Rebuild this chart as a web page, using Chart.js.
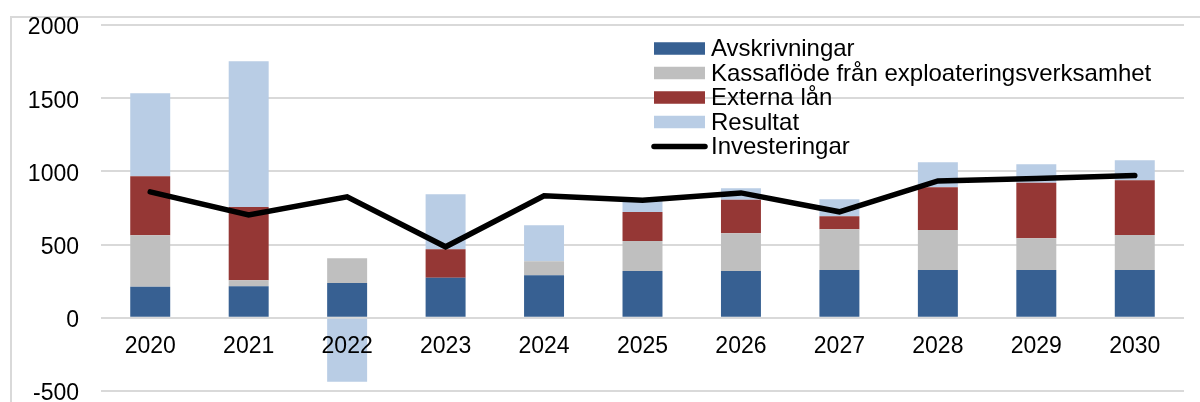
<!DOCTYPE html>
<html>
<head>
<meta charset="utf-8">
<script src="https://cdn.jsdelivr.net/npm/chart.js@4/dist/chart.umd.min.js"></script>
<style>
  html, body { margin: 0; padding: 0; background: #fff; }
  #wrap { width: 1200px; height: 402px; position: relative; }
</style>
</head>
<body>
<div id="wrap"><canvas id="finChart" width="1200" height="402"></canvas></div>
<script>
const years = ["2020", "2021", "2022", "2023", "2024", "2025", "2026", "2027", "2028", "2029", "2030"];
const avskrivningar = [212, 216, 237, 273, 291, 319, 319, 326, 326, 326, 326];
const kassaflode = [352, 41, 170, 0, 96, 205, 259, 279, 273, 218, 239];
const externaLan = [403, 499, 0, 196, 0, 198, 228, 89, 293, 378, 375];
const resultat = [567, 996, -437, 375, 246, 85, 79, 116, 171, 127, 137];
const investeringar = [860, 703, 826, 485, 833, 803, 853, 724, 935, 951, 972];
const yTicks = [-500, 0, 500, 1000, 1500, 2000];

const FONT = "'Liberation Sans', Arial, sans-serif";

// legend drawn by hand, Excel puts it inside the plot area
const sideLegend = {
  id: "sideLegend",
  afterDatasetsDraw(chart) {
    const ctx = chart.ctx;
    const x0 = 654, boxW = 51, textX = 711;
    let y = 48.5;
    ctx.save();
    ctx.font = "24px " + FONT;
    ctx.textBaseline = "middle";
    chart.data.datasets.forEach((ds) => {
      if (ds.type === "line") {
        ctx.strokeStyle = ds.borderColor;
        ctx.lineWidth = ds.borderWidth;
        ctx.lineCap = "round";
        ctx.beginPath();
        ctx.moveTo(x0, y);
        ctx.lineTo(x0 + boxW, y);
        ctx.stroke();
      } else {
        ctx.fillStyle = ds.backgroundColor;
        ctx.fillRect(x0, y - 6.25, boxW, 12.5);
      }
      ctx.fillStyle = "#000";
      ctx.fillText(ds.label, textX, y + 1);
      y += 24.5;
    });
    ctx.restore();
  },
  beforeDraw(chart) {
    const ctx = chart.ctx;
    ctx.save();
    ctx.strokeStyle = "#d9d9d9";
    ctx.lineWidth = 2;
    ctx.beginPath();
    ctx.moveTo(11, 402);
    ctx.lineTo(11, 17);
    ctx.lineTo(1200, 17);
    ctx.stroke();
    ctx.restore();
  },
};

new Chart(document.getElementById("finChart"), {
  type: "bar",
  data: {
    labels: years,
    datasets: [
      { label: "Avskrivningar", data: avskrivningar, backgroundColor: "#376092", stack: "s", order: 1 },
      { label: "Kassaflöde från exploateringsverksamhet", data: kassaflode, backgroundColor: "#bfbfbf", stack: "s", order: 1 },
      { label: "Externa lån", data: externaLan, backgroundColor: "#953735", stack: "s", order: 1 },
      { label: "Resultat", data: resultat, backgroundColor: "#b9cde5", stack: "s", order: 1 },
      {
        type: "line",
        label: "Investeringar",
        data: investeringar,
        borderColor: "#000",
        borderWidth: 5.5,
        borderCapStyle: "round",
        borderJoinStyle: "miter",
        pointRadius: 0,
        tension: 0,
        stack: "line",
        order: 0,
      },
    ],
  },
  options: {
    responsive: false,
    animation: false,
    layout: { padding: { left: 10, right: 16, top: 25, bottom: 11 } },
    datasets: { bar: { barPercentage: 0.406, categoryPercentage: 1 } },
    plugins: { legend: { display: false }, tooltip: { enabled: false } },
    scales: {
      x: {
        stacked: true,
        position: { y: 0 },
        grid: { display: false, drawTicks: false },
        border: { display: false },
        ticks: {
          z: 1, // year labels sit on top of the negative 2022 bar
          color: "#000",
          font: { family: FONT, size: 23 },
          padding: 15,
          maxRotation: 0,
        },
      },
      y: {
        stacked: true,
        min: -500,
        max: 2000,
        afterBuildTicks: (scale) => {
          scale.ticks = yTicks.map((v) => ({ value: v }));
        },
        afterFit: (scale) => {
          scale.width = 91;
          scale.paddingTop = 0;
          scale.paddingBottom = 0;
        },
        grid: { color: "#d9d9d9", lineWidth: 2, drawTicks: false },
        border: { display: false },
        ticks: {
          color: "#000",
          font: { family: FONT, size: 23 },
          padding: 22,
          labelOffset: 3,
          callback: (v) => String(v),
        },
      },
    },
  },
  plugins: [sideLegend],
});
</script>
</body>
</html>
